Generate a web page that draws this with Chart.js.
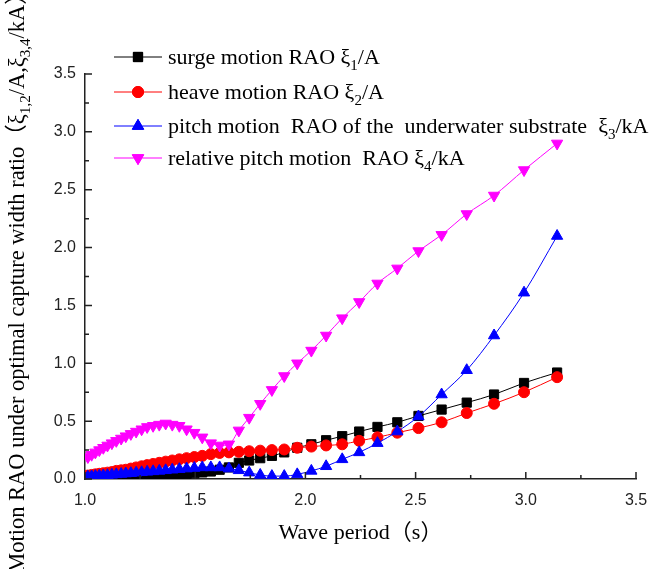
<!DOCTYPE html>
<html>
<head>
<meta charset="utf-8">
<script src="https://cdn.jsdelivr.net/npm/chart.js@4.4.0/dist/chart.umd.min.js"></script>
<style>
  html, body { margin: 0; padding: 0; background: #fff; }
</style>
</head>
<body>
<canvas id="myChart" width="660" height="569"></canvas>
<script>
// wave periods (s)
const periods = [
  1.013, 1.030, 1.047, 1.065, 1.083, 1.102, 1.122, 1.142, 1.164, 1.185,
  1.208, 1.232, 1.257, 1.282, 1.309, 1.337, 1.366, 1.396, 1.428, 1.461,
  1.496, 1.532, 1.571, 1.611, 1.653, 1.698, 1.745, 1.795, 1.848, 1.904,
  1.963, 2.027, 2.094, 2.167, 2.244, 2.327, 2.417, 2.513, 2.618, 2.732,
  2.856, 2.992, 3.142
];

const surgeRAO = [
  0.003, 0.004, 0.005, 0.006, 0.007, 0.008, 0.009, 0.010, 0.012, 0.014,
  0.016, 0.018, 0.020, 0.023, 0.026, 0.029, 0.032, 0.036, 0.040, 0.045,
  0.050, 0.057, 0.065, 0.080, 0.100, 0.140, 0.160, 0.180, 0.200, 0.230,
  0.270, 0.300, 0.335, 0.370, 0.410, 0.450, 0.490, 0.545, 0.600, 0.660,
  0.730, 0.830, 0.920
];

const heaveRAO = [
  0.030, 0.035, 0.040, 0.045, 0.050, 0.055, 0.060, 0.070, 0.075, 0.080,
  0.090, 0.100, 0.110, 0.120, 0.130, 0.140, 0.150, 0.160, 0.170, 0.180,
  0.190, 0.200, 0.215, 0.225, 0.230, 0.235, 0.240, 0.245, 0.250, 0.255,
  0.270, 0.280, 0.290, 0.300, 0.330, 0.360, 0.400, 0.440, 0.490, 0.570,
  0.650, 0.750, 0.880
];

const pitchRAO = [
  0.020, 0.022, 0.025, 0.028, 0.030, 0.033, 0.036, 0.040, 0.043, 0.047,
  0.050, 0.054, 0.058, 0.062, 0.066, 0.070, 0.075, 0.080, 0.085, 0.090,
  0.095, 0.100, 0.100, 0.100, 0.090, 0.075, 0.055, 0.035, 0.025, 0.025,
  0.040, 0.070, 0.110, 0.170, 0.230, 0.310, 0.410, 0.540, 0.730, 0.940,
  1.240, 1.610, 2.100
];

const relPitchRAO = [
  0.19, 0.21, 0.23, 0.25, 0.27, 0.29, 0.31, 0.33, 0.35, 0.37,
  0.39, 0.41, 0.43, 0.45, 0.46, 0.47, 0.48, 0.47, 0.46, 0.43,
  0.40, 0.36, 0.31, 0.29, 0.30, 0.42, 0.53, 0.65, 0.77, 0.89,
  1.00, 1.11, 1.24, 1.39, 1.53, 1.69, 1.82, 1.97, 2.11, 2.29,
  2.45, 2.67, 2.90
];

const xTicks = [1.0, 1.5, 2.0, 2.5, 3.0, 3.5];
const yTicks = [0.0, 0.5, 1.0, 1.5, 2.0, 2.5, 3.0, 3.5];

const seriesLabels = [
  'surge motion RAO ξ_1/A',
  'heave motion RAO ξ_2/A',
  'pitch motion  RAO of the  underwater substrate  ξ_3/kA',
  'relative pitch motion  RAO ξ_4/kA'
];
const xTitle = 'Wave period（s）';
const yTitle = 'Motion RAO under optimal capture width ratio（ξ_{1,2}/A,ξ_{3,4}/kA）';

const serif = '"Liberation Serif", "Times New Roman", "Noto Sans CJK SC", serif';
const sans = '"Liberation Sans", Arial, sans-serif';

const toPoints = (ys) => periods.map((t, i) => ({x: t, y: ys[i]}));

// split "abc_1def_{1,2}" into normal / subscript pieces
const splitRich = (str) => {
  const parts = [];
  const re = /_\{([^}]*)\}|_(.)|([^_]+)/g;
  let m;
  while ((m = re.exec(str)) !== null) {
    if (m[3] !== undefined) parts.push({t: m[3], sub: false});
    else parts.push({t: m[1] !== undefined ? m[1] : m[2], sub: true});
  }
  return parts;
};

const drawRich = (ctx, str, x, y, size, alignCenter) => {
  const parts = splitRich(str);
  const mainFont = size + 'px ' + serif;
  const subFont = Math.round(size * 0.68) + 'px ' + serif;
  let total = 0;
  parts.forEach(p => {
    ctx.font = p.sub ? subFont : mainFont;
    p.w = ctx.measureText(p.t).width;
    total += p.w;
  });
  let cx = alignCenter ? x - total / 2 : x;
  ctx.textBaseline = 'alphabetic';
  ctx.textAlign = 'left';
  parts.forEach(p => {
    ctx.font = p.sub ? subFont : mainFont;
    ctx.fillText(p.t, cx, p.sub ? y + size * 0.28 : y);
    cx += p.w;
  });
};

const datasets = [
  {label: seriesLabels[0], data: toPoints(surgeRAO), borderColor: '#000000', backgroundColor: '#000000',
   pointStyle: 'rect', pointRadius: 6.5, order: 4},
  {label: seriesLabels[1], data: toPoints(heaveRAO), borderColor: '#ff0000', backgroundColor: '#ff0000',
   pointStyle: 'circle', pointRadius: 5.5, order: 3},
  {label: seriesLabels[2], data: toPoints(pitchRAO), borderColor: '#0000ff', backgroundColor: '#0000ff',
   pointStyle: 'triangle', pointRadius: 6.5, order: 2},
  {label: seriesLabels[3], data: toPoints(relPitchRAO), borderColor: '#ff00ff', backgroundColor: '#ff00ff',
   pointStyle: 'triangle', pointRotation: 180, pointRadius: 6.5, order: 1}
];
datasets.forEach(d => {
  d.borderWidth = 1;
  d.pointBorderWidth = 1;
  d.pointBorderColor = d.borderColor;
  d.pointBackgroundColor = d.backgroundColor;
  d.cubicInterpolationMode = 'monotone';
});

// ticks pointing into the plot, majors plus one minor between
const inwardTicks = {
  id: 'inwardTicks',
  afterDraw(chart) {
    const {ctx, scales: {x, y}} = chart;
    const x0 = x.getPixelForValue(xTicks[0]);
    const y0 = y.getPixelForValue(yTicks[0]);
    ctx.save();
    ctx.strokeStyle = '#222';
    ctx.lineWidth = 1.5;
    ctx.beginPath();
    xTicks.forEach((v, i) => {
      const px = x.getPixelForValue(v);
      ctx.moveTo(px, y0); ctx.lineTo(px, y0 - 7);
      if (i < xTicks.length - 1) {
        const mx = x.getPixelForValue((v + xTicks[i + 1]) / 2);
        ctx.moveTo(mx, y0); ctx.lineTo(mx, y0 - 4);
      }
    });
    yTicks.forEach((v, i) => {
      const py = y.getPixelForValue(v);
      ctx.moveTo(x0, py); ctx.lineTo(x0 + 7, py);
      if (i < yTicks.length - 1) {
        const my = y.getPixelForValue((v + yTicks[i + 1]) / 2);
        ctx.moveTo(x0, my); ctx.lineTo(x0 + 4, my);
      }
    });
    ctx.stroke();
    ctx.restore();
  }
};

// legend inside the top-left corner, and the rotated y title with subscripts
const richText = {
  id: 'richText',
  afterDraw(chart) {
    const ctx = chart.ctx;
    const a = chart.chartArea;
    ctx.save();
    ctx.fillStyle = '#000';
    const rowY = [57, 92, 126, 158];
    chart.data.datasets.forEach((d, i) => {
      const yy = rowY[i];
      ctx.strokeStyle = d.borderColor;
      ctx.lineWidth = 1;
      ctx.beginPath();
      ctx.moveTo(114, yy); ctx.lineTo(162, yy);
      ctx.stroke();
      ctx.fillStyle = d.backgroundColor;
      Chart.helpers.drawPoint(ctx, {
        pointStyle: d.pointStyle, rotation: d.pointRotation || 0,
        radius: d.pointRadius, borderWidth: 1
      }, 138, yy);
      ctx.fill();
      ctx.stroke();
      ctx.fillStyle = '#000';
      drawRich(ctx, d.label, 168, yy + 7, 22, false);
    });
    ctx.translate(16, (a.top + a.bottom) / 2 + 1);
    ctx.rotate(-Math.PI / 2);
    drawRich(ctx, yTitle, 0, 8, 22.5, true);
    ctx.restore();
  }
};

const config = {
  type: 'line',
  data: {datasets},
  options: {
    responsive: false,
    animation: false,
    layout: {padding: {left: 0, right: 24, top: 74, bottom: 0}},
    plugins: {legend: {display: false}, tooltip: {enabled: false}},
    scales: {
      x: {
        type: 'linear', min: 1.0, max: 3.5,
        afterBuildTicks: s => { s.ticks = xTicks.map(v => ({value: v})); },
        afterFit: s => { s.height = 90; },
        grid: {display: false, drawTicks: false},
        border: {display: true, color: '#222', width: 1.5},
        ticks: {padding: 12, color: '#222', font: {family: sans, size: 16},
                callback: v => v.toFixed(1)},
        title: {display: true, text: xTitle, color: '#000',
                font: {family: serif, size: 22}, padding: {top: 0, bottom: 23}}
      },
      y: {
        min: 0, max: 3.5,
        afterBuildTicks: s => { s.ticks = yTicks.map(v => ({value: v})); },
        afterFit: s => { s.width = 85; },
        grid: {display: false, drawTicks: false},
        border: {display: true, color: '#222', width: 1.5},
        ticks: {padding: 9, color: '#222', font: {family: sans, size: 16},
                callback: v => v.toFixed(1)}
      }
    }
  },
  plugins: [inwardTicks, richText]
};

var myChart = new Chart(document.getElementById('myChart'), config);
</script>
</body>
</html>
